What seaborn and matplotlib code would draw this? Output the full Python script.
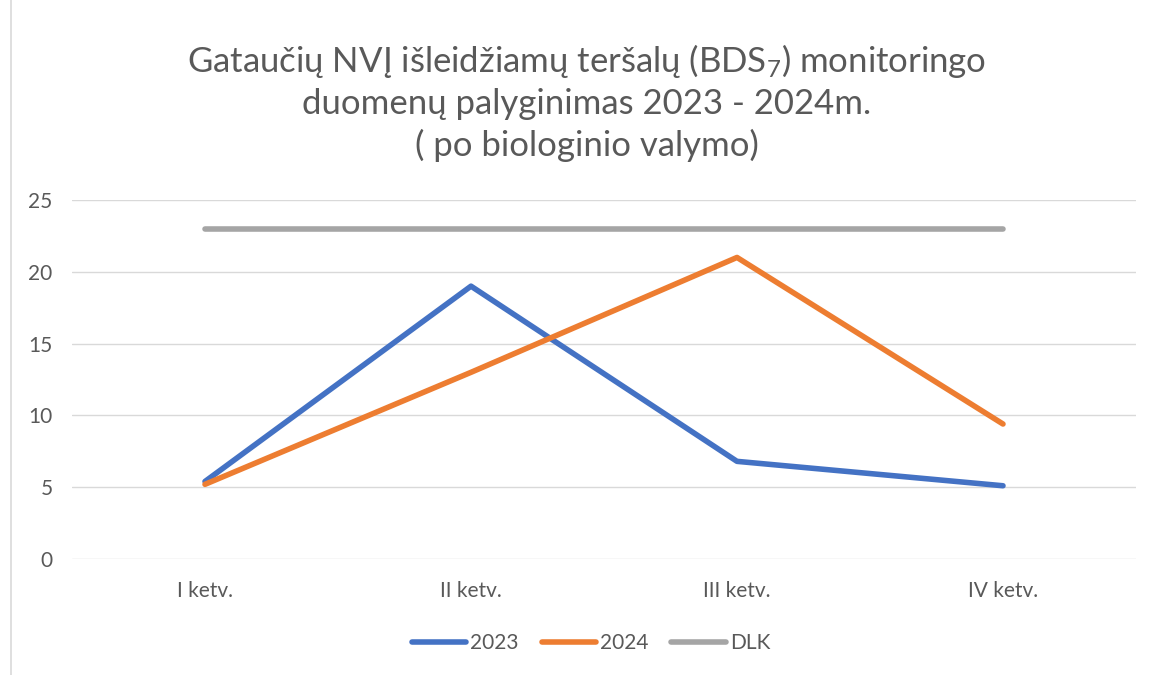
import matplotlib
matplotlib.use("Agg")
import matplotlib.pyplot as plt
import seaborn as sns
import pandas as pd
from matplotlib.lines import Line2D

categories = ["I ketv.", "II ketv.", "III ketv.", "IV ketv."]
values_2023 = [5.4, 19.0, 6.8, 5.1]
values_2024 = [5.2, 13.0, 21.0, 9.4]
values_dlk = [23, 23, 23, 23]
series_names = ["2023", "2024", "DLK"]
y_ticks = [0, 5, 10, 15, 20, 25]

sns.set_theme(style="white")
plt.rcParams['font.family'] = ['Lato', 'DejaVu Sans']
plt.rcParams['mathtext.fontset'] = 'custom'
plt.rcParams['mathtext.rm'] = 'Lato'
plt.rcParams['mathtext.it'] = 'Lato'

df = pd.DataFrame({
    "kategorija": categories * 3,
    "reiksme": values_2023 + values_2024 + values_dlk,
    "serija": [series_names[0]] * 4 + [series_names[1]] * 4 + [series_names[2]] * 4,
})
df["x"] = list(range(4)) * 3

fig = plt.figure(figsize=(11.49, 6.75), dpi=100)
ax = fig.add_axes([72 / 1149, 1 - 559 / 675, (1136 - 72) / 1149, (559 - 200) / 675])

palette = {"2023": "#4472C4", "2024": "#ED7D31", "DLK": "#A5A5A5"}
sns.lineplot(data=df, x="x", y="reiksme", hue="serija", palette=palette, ax=ax,
             linewidth=4, legend=False, sort=False)
for line in ax.get_lines():
    line.set_solid_capstyle("round")
    line.set_solid_joinstyle("round")

ax.set_xlim(-0.5, 3.5)
ax.set_ylim(0, 25)
ax.set_yticks(y_ticks)
ax.set_xticks(range(4))
ax.set_xticklabels(categories)
ax.set_xlabel("")
ax.set_ylabel("")
ax.grid(axis="y", color="#D9D9D9", linewidth=1)
ax.set_axisbelow(True)
for s in ax.spines.values():
    s.set_visible(False)
ax.tick_params(axis="both", length=0, labelsize=15, colors="#595959")
ax.tick_params(axis="y", pad=14)
ax.tick_params(axis="x", pad=16)

fig.text(587 / 1149, 1 - 102 / 675,
         "Gataučių NVĮ išleidžiamų teršalų (BDS$_7$) monitoringo\nduomenų palyginimas 2023 - 2024m.\n( po biologinio valymo)",
         ha="center", va="center", fontsize=25, color="#595959", linespacing=1.3)

handles = [Line2D([0], [0], color=palette[n], linewidth=4, solid_capstyle="round") for n in series_names]
fig.legend(handles, series_names, loc="center", bbox_to_anchor=(591 / 1149, 1 - 643 / 675), ncol=3,
           frameon=False, fontsize=15, labelcolor="#595959", handlelength=2.6,
           handletextpad=0.2, columnspacing=1.1)

# chart border at left
fig.add_artist(Line2D([11 / 1149, 11 / 1149], [0, 1], color="#D9D9D9", linewidth=1.2,
                      transform=fig.transFigure))

fig.savefig("out.png", dpi=100, facecolor="white")
